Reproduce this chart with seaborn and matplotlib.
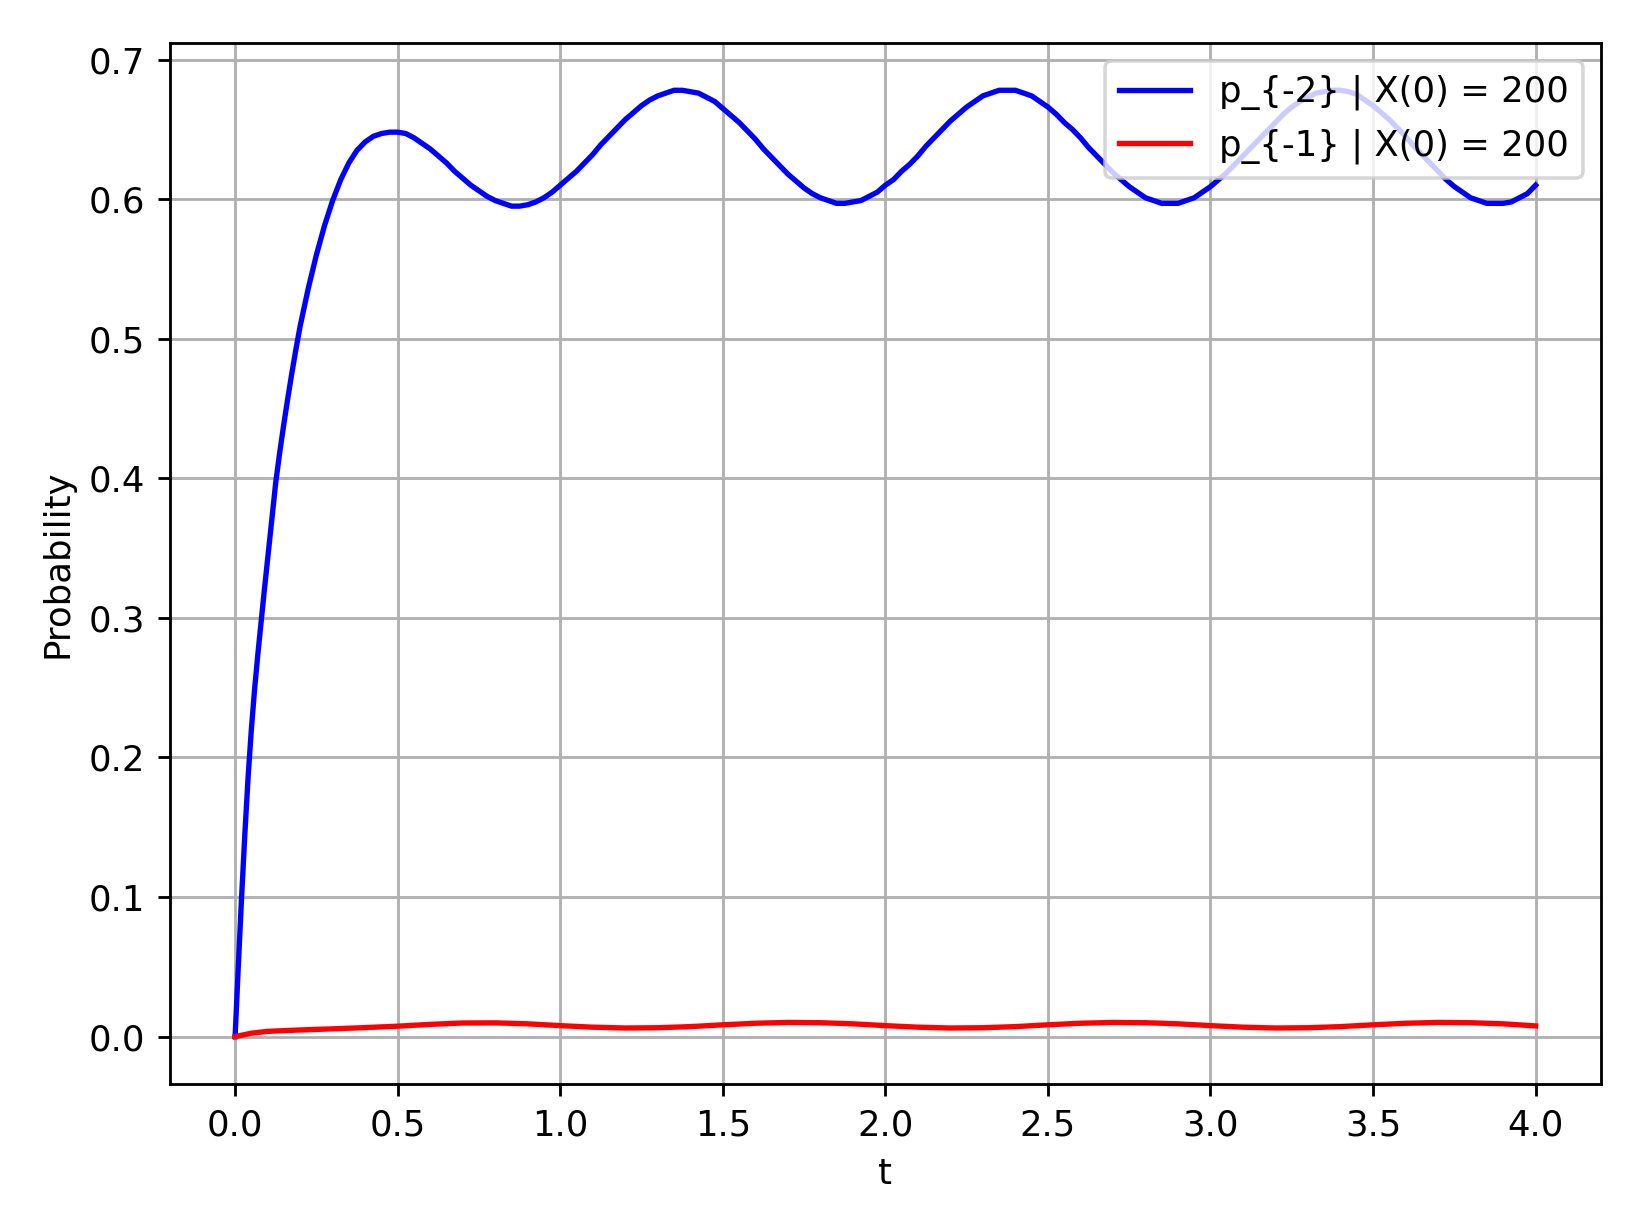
import numpy as np
import pandas as pd
import seaborn as sns
import matplotlib
matplotlib.use("Agg")
import matplotlib.pyplot as plt

# --- data ---
t_blue_early = [0.0, 0.01, 0.02, 0.03, 0.04, 0.05, 0.06, 0.07, 0.08, 0.09, 0.10,
                0.1125, 0.125, 0.1375, 0.15, 0.1625, 0.175, 0.1875]
t_blue = t_blue_early + [round(v, 3) for v in np.arange(0.2, 4.0001, 0.025)]

# rise (t = 0 .. 0.1875)
p_minus2_rise = [0.0, 0.051, 0.100, 0.145, 0.186, 0.220, 0.249, 0.274, 0.297, 0.320, 0.342,
                 0.370, 0.397, 0.419, 0.439, 0.458, 0.476, 0.493]
# t = 0.2 .. 0.975
p_minus2_first = [0.509, 0.536, 0.560, 0.581, 0.599, 0.614, 0.626, 0.635, 0.641, 0.645,
                  0.647, 0.648,
                  0.648, 0.647, 0.644, 0.640, 0.636, 0.631, 0.626, 0.620, 0.615, 0.610,
                  0.606, 0.602, 0.599, 0.597, 0.595, 0.595, 0.596, 0.598, 0.601, 0.605]
# t = 1.0 .. 1.975
p_minus2_cycle1 = [0.610, 0.615, 0.620, 0.626, 0.632, 0.639, 0.645, 0.651, 0.657, 0.662,
                   0.667, 0.671, 0.674, 0.676, 0.678, 0.678, 0.677, 0.676, 0.673, 0.670,
                   0.665, 0.660, 0.655, 0.649, 0.643, 0.636, 0.630, 0.624, 0.618, 0.613,
                   0.608, 0.604, 0.601, 0.599, 0.597, 0.597, 0.598, 0.599, 0.602, 0.605]
# t = 2.0 .. 2.975
p_minus2_cycle2 = [0.610, 0.614, 0.620, 0.625, 0.631, 0.638, 0.644, 0.650, 0.656, 0.661,
                   0.666, 0.670, 0.674, 0.676, 0.678, 0.678, 0.678, 0.676, 0.674, 0.670,
                   0.666, 0.661, 0.655, 0.650, 0.644, 0.637, 0.631, 0.625, 0.619, 0.614,
                   0.609, 0.605, 0.601, 0.599, 0.597, 0.597, 0.597, 0.599, 0.601, 0.605]
# t = 3.0 .. 3.975
p_minus2_cycle3 = [0.609, 0.614, 0.619, 0.625, 0.631, 0.637, 0.643, 0.649, 0.655, 0.661,
                   0.666, 0.670, 0.673, 0.676, 0.677, 0.678, 0.678, 0.677, 0.675, 0.671,
                   0.667, 0.662, 0.657, 0.651, 0.645, 0.638, 0.632, 0.626, 0.620, 0.614,
                   0.609, 0.605, 0.601, 0.599, 0.597, 0.597, 0.597, 0.598, 0.601, 0.604]
p_minus2_end = [0.610]
p_minus2 = (p_minus2_rise + p_minus2_first + p_minus2_cycle1 + p_minus2_cycle2
            + p_minus2_cycle3 + p_minus2_end)

t_red = [0.0, 0.05] + [round(v, 1) for v in np.arange(0.1, 4.001, 0.1)]
p_minus1 = [0.0, 0.0025, 0.0038, 0.0048, 0.0056, 0.0065, 0.0075, 0.0088, 0.0098, 0.0099, 0.0092,
            0.0079, 0.0068, 0.0062, 0.0064, 0.0072, 0.0085, 0.0096, 0.0102, 0.0100, 0.0092,
            0.0079, 0.0068, 0.0062, 0.0064, 0.0072, 0.0085, 0.0096, 0.0102, 0.0100, 0.0092,
            0.0079, 0.0068, 0.0062, 0.0064, 0.0072, 0.0085, 0.0096, 0.0102, 0.0100, 0.0092,
            0.0077]

label_blue = "p_{-2} | X(0) = 200"
label_red = "p_{-1} | X(0) = 200"

df_blue = pd.DataFrame({"t": t_blue, "p": p_minus2})
df_red = pd.DataFrame({"t": t_red, "p": p_minus1})

# --- plot ---
fig, ax = plt.subplots(figsize=(1640 / 256, 1217 / 256), dpi=256)
fig.subplots_adjust(left=0.1037, right=0.976, top=0.9647, bottom=0.1093)

sns.lineplot(data=df_blue, x="t", y="p", color="blue", label=label_blue, ax=ax)
sns.lineplot(data=df_red, x="t", y="p", color="red", label=label_red, ax=ax)

ax.set_xlabel("t")
ax.set_ylabel("Probability")
ax.grid(True)
ax.legend(loc="upper right")

fig.savefig("out.png", dpi=256)
